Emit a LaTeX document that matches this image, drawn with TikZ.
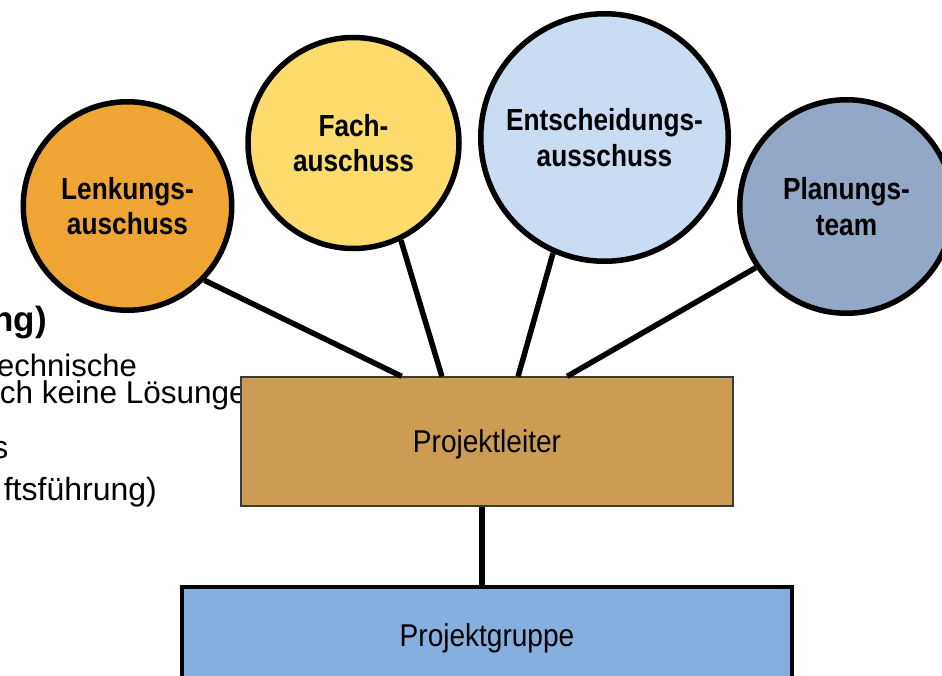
\documentclass[tikz,border=0pt]{standalone}
\usepackage{fontspec}
\setmainfont{Liberation Sans}
\newfontfamily\narrowfont{Liberation Sans}[FakeStretch=0.89]
\newfontfamily\narrowboldfont{Liberation Sans}[FakeStretch=0.86]
\usetikzlibrary{calc}
\definecolor{lenkc}{HTML}{EEA534}
\definecolor{fachc}{HTML}{FDDB6C}
\definecolor{entc}{HTML}{C9DCF2}
\definecolor{planc}{HTML}{93A7C7}
\definecolor{plc}{HTML}{CC9C55}
\definecolor{pgc}{HTML}{84AFDF}
\definecolor{plborder}{HTML}{3A3A3A}
\begin{document}
\begin{tikzpicture}[x=1pt,y=-1pt,
  circ/.style={circle, draw=black, line width=5.5pt, inner sep=0pt, align=center,
    font=\narrowboldfont\bfseries\fontsize{30.5}{35.5}\selectfont},
  conn/.style={line width=5.5pt, draw=black},
  lbl/.style={inner sep=0pt, font=\fontsize{31}{31}\selectfont},
  lblbig/.style={inner sep=0pt, font=\fontsize{32}{32}\selectfont},
  boxtext/.style={inner sep=0pt, text depth=0pt, font=\narrowfont\fontsize{31.5}{31.5}\selectfont}]
\useasboundingbox (0,0) rectangle (942,676);
\clip (0,0) rectangle (942,676);
% background slide text (partly hidden)
\node[inner sep=0pt, font=\bfseries\fontsize{35}{35}\selectfont, anchor=base east] (t1) at (47,331.7) {ng)};
\node[lbl, anchor=base east] (t2) at (137,376.7) {echnische};
\node[lbl, font=\fontsize{31.5}{31.5}\selectfont, anchor=base east] (t3) at (247,403.3) {ch keine Lösunge};
\node[lblbig, anchor=base east] (t4) at (8.5,458.3) {s};
\node[lblbig, anchor=base east] (t5) at (157,500) {ftsführung)};
% boxes
\node[boxtext, draw=plborder, line width=1.3pt, fill=plc, minimum width=492pt, minimum height=129pt] (pl) at (487,441.5) {Projektleiter};
\node[boxtext, draw=black, line width=4pt, fill=pgc, minimum width=610pt, minimum height=96pt] (pg) at (487,635) {Projektgruppe};
% circles
\node[circ, fill=lenkc, minimum size=208.5pt] (lenk) at (127.5,206) {Lenkungs-\\auschuss};
\node[circ, fill=fachc, minimum size=211pt] (fach) at (353.5,143) {Fach-\\auschuss};
\node[circ, fill=entc, minimum size=247.5pt] (ent) at (604.5,137.5) {Entscheidungs-\\ausschuss};
\node[circ, fill=planc, minimum size=213.5pt] (plan) at (846.5,206.5) {Planungs-\\team};
% connectors
\draw[conn] (lenk.-44) -- ($(pl.north west)!0.327!(pl.north east)$);
\draw[conn] (fach.-64) -- ($(pl.north west)!0.4085!(pl.north east)$);
\draw[conn] (ent.-114) -- ($(pl.north west)!0.563!(pl.north east)$);
\draw[conn] (plan.-146) -- ($(pl.north west)!0.6626!(pl.north east)$);
\coordinate (v) at ($(pl.south west)!0.49!(pl.south east)$);
\draw[conn] (v) -- (v |- pg.north);
\end{tikzpicture}
\end{document}
